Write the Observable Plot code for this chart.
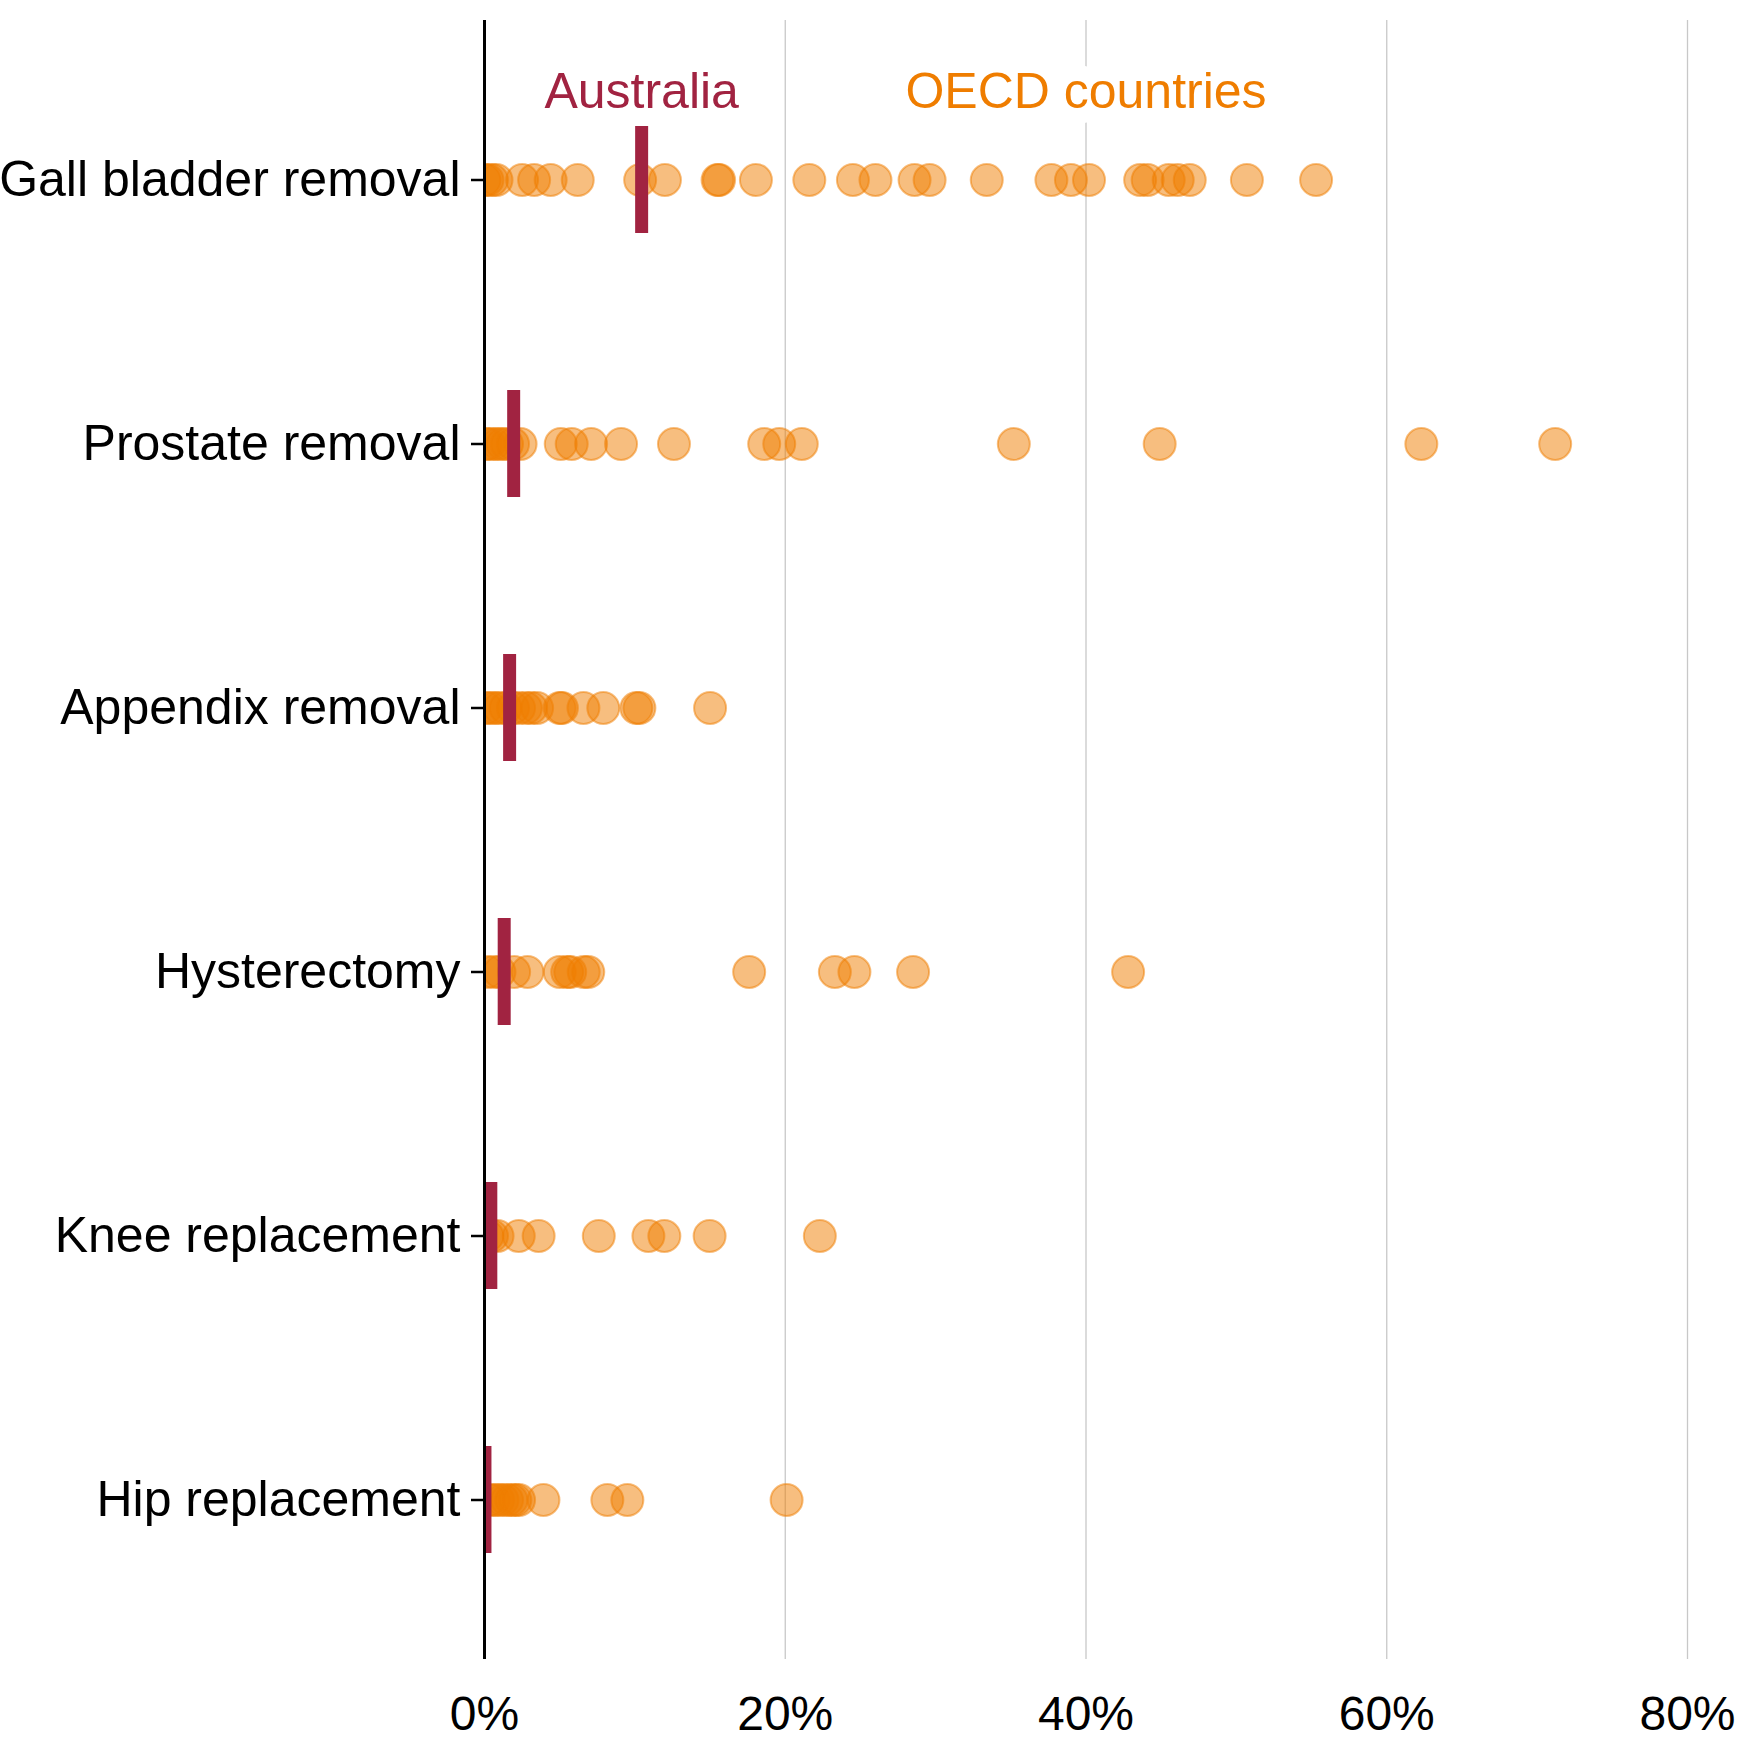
<!DOCTYPE html>
<html>
<head>
<meta charset="utf-8">
<script src="https://cdn.jsdelivr.net/npm/d3@7"></script>
<script src="https://cdn.jsdelivr.net/npm/@observablehq/plot@0.6"></script>
<style>
  html, body { margin: 0; padding: 0; background: #fff; }
</style>
</head>
<body>
<div id="chart"></div>
<script>
// Categories (top to bottom)
const categories = [
  "Gall bladder removal",
  "Prostate removal",
  "Appendix removal",
  "Hysterectomy",
  "Knee replacement",
  "Hip replacement"
];

// Australia's value per category (%)
const australia = [10.45, 1.94, 1.67, 1.31, 0.42, 0.03];

// OECD countries' values per category (%)
const gallBladder = [0.0, 0.2, 0.5, 0.8, 2.5, 3.3, 4.4, 6.2, 10.35, 12.0, 15.5, 15.6, 18.05, 21.6, 24.5, 26.0, 28.6, 29.6, 33.4, 37.7, 39.0, 40.2, 43.6, 44.1, 45.5, 46.1, 46.9, 50.7, 55.3];
const prostate = [0.1, 0.3, 0.6, 0.9, 1.2, 1.5, 1.9, 2.4, 5.07, 5.8, 7.09, 9.08, 12.6, 18.6, 19.6, 21.1, 35.2, 44.9, 62.3, 71.2];
const appendix = [0.1, 0.4, 0.7, 1.0, 1.4, 1.9, 2.3, 2.75, 3.1, 3.5, 5.0, 5.15, 6.58, 7.9, 10.1, 10.3, 15.0];
const hysterectomy = [0.2, 0.6, 1.0, 1.97, 2.86, 5.0, 5.5, 5.7, 6.6, 6.9, 17.6, 23.3, 24.6, 28.5, 42.8];
const knee = [0.2, 0.5, 0.87, 2.28, 3.6, 7.6, 10.9, 11.96, 14.97, 22.3];
const hip = [0.3, 0.6, 0.9, 1.2, 1.5, 1.8, 2.05, 2.3, 3.92, 8.17, 9.5, 20.09];

// X tick values
const xTicks = [0, 20, 40, 60, 80];

// Annotation labels
const labelText = ["Australia", "OECD countries"];
const labelX = [10.45, 40];
const labelColor = ["#a12341", "#ef7d00"];

const oecdSeries = [gallBladder, prostate, appendix, hysterectomy, knee, hip];
const oecd = categories.flatMap((c, i) => oecdSeries[i].map(v => ({category: c, value: v})));
const aus = categories.map((c, i) => ({category: c, value: australia[i]}));
const labels = labelText.map((t, i) => ({text: t, x: labelX[i], color: labelColor[i]}));

const chart = Plot.plot({
  width: 1745,
  height: 1745,
  marginTop: 20,
  marginBottom: 86,
  marginLeft: 484,
  marginRight: 58,
  style: {fontFamily: "'Liberation Sans', Arial, sans-serif", background: "white", color: "black"},
  x: {domain: [0, 80], axis: null},
  y: {type: "band", domain: categories, paddingInner: 0.5955, paddingOuter: 0.396, axis: null},
  marks: [
    Plot.ruleX(xTicks.filter(d => d > 0), {stroke: "#c8c8c8", strokeWidth: 1.3}),
    Plot.dot(oecd, {
      x: "value", y: "category", r: 16,
      fill: "#ef7d00", fillOpacity: 0.5,
      stroke: "#ef7d00", strokeOpacity: 0.5, strokeWidth: 2,
      clip: true
    }),
    Plot.tickX(aus, {x: "value", y: "category", stroke: "#a12341", strokeWidth: 13, clip: true}),
    Plot.ruleX([0], {stroke: "black", strokeWidth: 3}),
    Plot.axisY({tickSize: 13, tickPadding: 11, fontSize: 50, strokeWidth: 2.5, label: null}),
    Plot.axisX({ticks: xTicks, tickFormat: d => d + "%", tickSize: 0, tickPadding: 36, fontSize: 48, label: null}),
    Plot.text(labels, {
      x: "x", text: "text", fill: "color",
      frameAnchor: "top", dy: 71, lineAnchor: "middle",
      fontSize: 50, stroke: "white", strokeWidth: 32
    })
  ]
});

document.getElementById("chart").appendChild(chart);
</script>
</body>
</html>
